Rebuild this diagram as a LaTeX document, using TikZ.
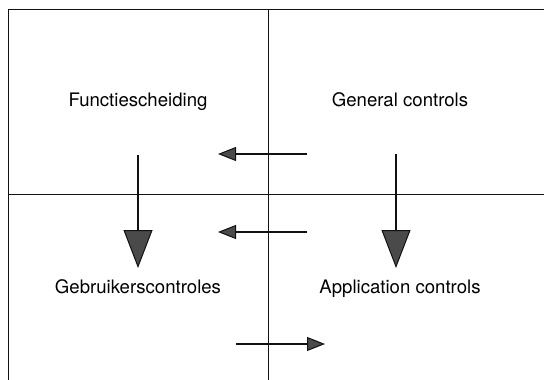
\documentclass[tikz,border=0pt]{standalone}
\usepackage{fontspec}
\setmainfont{TeX Gyre Heros}
\usetikzlibrary{arrows.meta}
\definecolor{cK}{HTML}{111111}
\definecolor{cH}{HTML}{4A4A4A}

\begin{document}
\begin{tikzpicture}[x=1pt,y=-1pt,font=\fontsize{18.6}{22}\selectfont,
  grid/.style={draw=cK,line width=1pt},
  lbl/.style={anchor=base,inner sep=0pt},
  bigarr/.style={draw=cK,line width=2pt,-{Triangle[length=38pt,width=29pt,fill=cH,line width=1pt]}},
  smallarr/.style={draw=cK,line width=1.3pt,-{Triangle[length=18pt,width=14pt,fill=cH,line width=1pt]}}]
\useasboundingbox (0,0) rectangle (544,380);
% --- frame and quadrants ---
\draw[grid] (8,380) -- (8,9) -- (544,9);
\draw[grid] (8,194) -- (544,194);
\draw[grid] (268,9) -- (268,380);
% --- labels ---
\node[lbl] (fs) at (138,106.5) {Functiescheiding};
\node[lbl] (gc) at (400,106.5) {General controls};
\node[lbl] (gb) at (138,293)   {Gebruikerscontroles};
\node[lbl] (ac) at (400,293)   {Application controls};
% --- arrow ends ---
\coordinate (fsA) at (138,155);
\coordinate (gbA) at (138,268);
\coordinate (gcA) at (396,154);
\coordinate (acA) at (396,268);
\coordinate (t1) at (307,154);
\coordinate (h1) at (218,154);
\coordinate (t2) at (307,232);
\coordinate (h2) at (218,232);
\coordinate (t3) at (236,344);
\coordinate (h3) at (325,344);
% --- arrows ---
\draw[bigarr] (fsA) -- (gbA);
\draw[bigarr] (gcA) -- (acA);
\draw[smallarr] (t1) -- (h1);
\draw[smallarr] (t2) -- (h2);
\draw[smallarr] (t3) -- (h3);
\end{tikzpicture}
\end{document}
